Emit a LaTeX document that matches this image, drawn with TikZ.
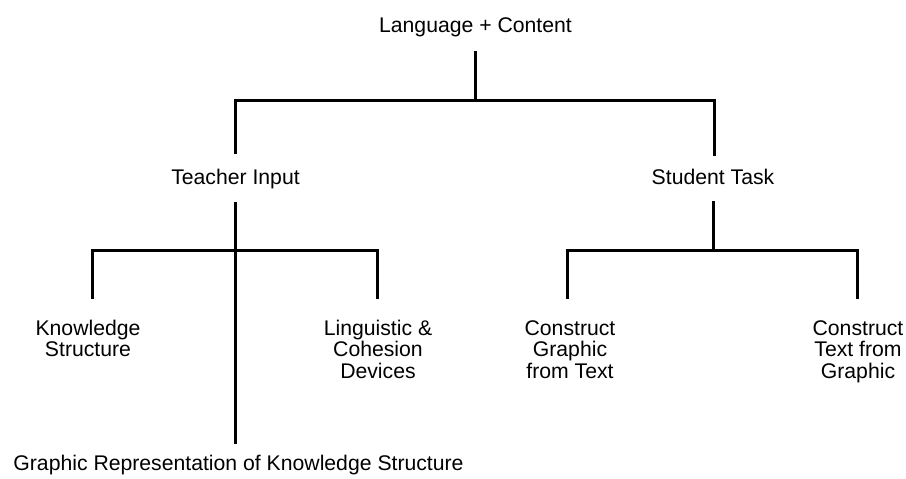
\documentclass[tikz,border=0pt]{standalone}
\usepackage{fontspec}
\setmainfont{Liberation Sans}
\begin{document}
\begin{tikzpicture}[x=1pt,y=-1pt,
  lbl/.style={inner sep=0pt, anchor=base, align=center,
    font=\fontsize{21.2}{21.5}\selectfont},
  branch/.style={line width=3pt, line cap=rect}]
\useasboundingbox (0,0) rectangle (906,479);

% labels (multi-line labels are placed by the baseline of their last line)
\node[lbl] (lc)  at (475.5,32) {Language + Content};
\node[lbl] (ti)  at (235.5,184) {Teacher Input};
\node[lbl] (st)  at (713,184) {Student Task};
\node[lbl] (ks)  at (88,356.5) {Knowledge\\Structure};
\node[lbl] (lcd) at (378,378) {Linguistic \&\\Cohesion\\Devices};
\node[lbl] (cgt) at (570,378) {Construct\\Graphic\\from Text};
\node[lbl] (ctg) at (858,378) {Construct\\Text from\\Graphic};
\node[lbl] (gr)  at (238.5,470) {Graphic Representation of Knowledge Structure};

% junction points
\coordinate (lcS) at (475,52);
\coordinate (j0)  at (475,100);
\coordinate (tiN) at (235,152);
\coordinate (stN) at (714,154);
\coordinate (tiS) at (235,203);
\coordinate (j1)  at (235,250);
\coordinate (grN) at (235,442);
\coordinate (ksN) at (92,297);
\coordinate (lcdN) at (377,297);
\coordinate (stS) at (713,202);
\coordinate (j2)  at (713,250);
\coordinate (cgtN) at (567,297);
\coordinate (ctgN) at (857,297);

% top level
\draw[branch] (lcS) -- (j0);
\draw[branch] (tiN) |- (j0) -| (stN);

% teacher input branch
\draw[branch] (tiS) -- (j1) -- (grN);
\draw[branch] (ksN) |- (j1) -| (lcdN);

% student task branch
\draw[branch] (stS) -- (j2);
\draw[branch] (cgtN) |- (j2) -| (ctgN);
\end{tikzpicture}
\end{document}
